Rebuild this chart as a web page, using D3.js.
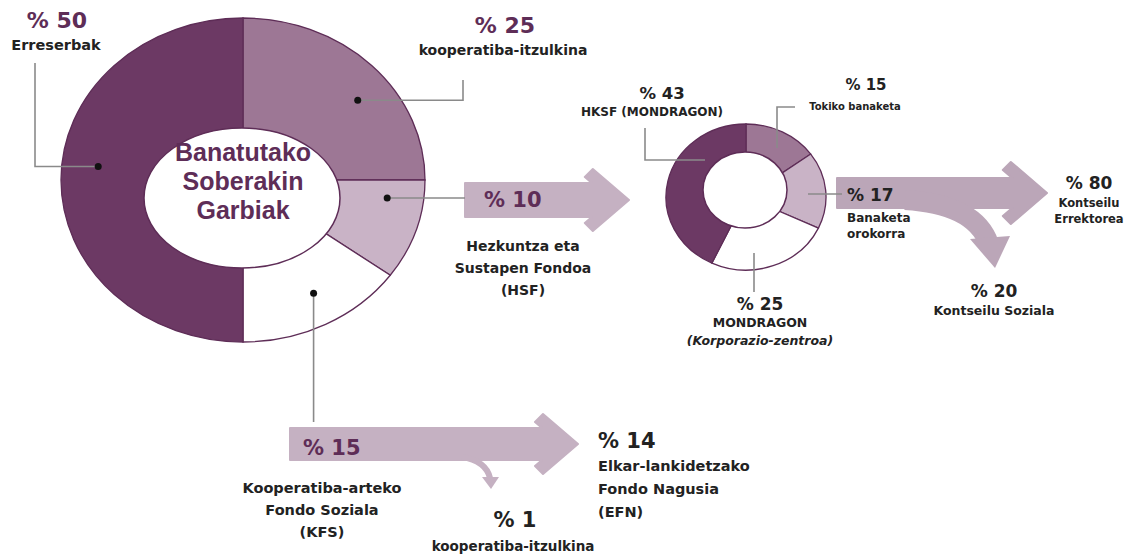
<!DOCTYPE html>
<html>
<head>
<meta charset="utf-8">
<script src="https://cdn.jsdelivr.net/npm/d3@7"></script>
<style>
  body { margin: 0; background: #fff; }
  text { font-family: "DejaVu Sans", sans-serif; font-weight: bold; }
</style>
</head>
<body>
<div id="chart"></div>
<script>
/**
 * DATA
 * */
const mainLabels = ["kooperatiba-itzulkina", "Hezkuntza eta Sustapen Fondoa (HSF)", "Kooperatiba-arteko Fondo Soziala (KFS)", "Erreserbak"];
const mainValues = [25, 10, 15, 50];

const hsfLabels = ["Tokiko banaketa", "Banaketa orokorra", "MONDRAGON (Korporazio-zentroa)", "HKSF (MONDRAGON)"];
const hsfValues = [15, 17, 25, 43];

const generalLabels = ["Kontseilu Errektorea", "Kontseilu Soziala"];
const generalValues = [80, 20];

const kfsLabels = ["Elkar-lankidetzako Fondo Nagusia (EFN)", "kooperatiba-itzulkina"];
const kfsValues = [14, 1];

const centerTitle = ["Banatutako", "Soberakin", "Garbiak"];

/**
 * CONSTANTS
 * */
const width = 1133, height = 555;
const purple = "#5e2d57";
const ink = "#222";
const lineGray = "#8a8a8a";
const arrowFill = "#c5b1c2";
const arrowFillDark = "#bba6b8";

const mainColors = ["#9d7795", "#c9b3c6", "#ffffff", "#6c3964"];
const hsfColors = ["#9d7795", "#c9b3c6", "#ffffff", "#6c3964"];

const svg = d3.select("#chart").append("svg")
  .attr("width", width)
  .attr("height", height);

const pie = d3.pie().sort(null).value(d => d);
const wedge = d3.arc().innerRadius(0).outerRadius(1);

// draws an elliptical donut: wedges from one centre, hole drawn on top
function donut(values, colors, c, hole) {
  const g = svg.append("g")
    .attr("transform", `translate(${c.x},${c.y}) scale(${c.rx},${c.ry})`);
  g.selectAll("path")
    .data(pie(values))
    .join("path")
    .attr("d", wedge)
    .attr("fill", (d, i) => colors[i])
    .attr("stroke", purple)
    .attr("stroke-width", 1.3)
    .attr("vector-effect", "non-scaling-stroke");
  svg.append("ellipse")
    .attr("cx", hole.x).attr("cy", hole.y)
    .attr("rx", hole.rx).attr("ry", hole.ry)
    .attr("fill", "#fff")
    .attr("stroke", purple)
    .attr("stroke-width", 1.5);
  return pie(values);
}

// block arrow with a chevron-like head
function arrow(x0, tip, cy, h, H, fill) {
  const run = 35, thick = 8;
  const xt = tip - run * H / 30;
  const xc = xt - thick;
  const xb = xc + (H - thick - h) * run / 30;
  const pts = [
    [x0, cy - h], [xb, cy - h], [xc, cy - H + thick], [xt, cy - H], [tip, cy],
    [xt, cy + H], [xc, cy + H - thick], [xb, cy + h], [x0, cy + h]
  ];
  svg.append("path")
    .attr("d", d3.line()(pts) + "Z")
    .attr("fill", fill)
    .attr("stroke", fill)
    .attr("stroke-width", 2)
    .attr("stroke-linejoin", "round");
}

function leader(points, dot) {
  svg.append("path")
    .attr("d", d3.line()(points))
    .attr("fill", "none")
    .attr("stroke", lineGray)
    .attr("stroke-width", 1.6);
  if (dot) {
    svg.append("circle")
      .attr("cx", points[0][0]).attr("cy", points[0][1])
      .attr("r", 3.5).attr("fill", "#111");
  }
}

function label(x, y, lines, opts) {
  const t = svg.append("text")
    .attr("x", x).attr("y", y)
    .attr("text-anchor", opts.anchor || "middle")
    .attr("fill", opts.color || ink)
    .style("font-size", opts.size + "px");
  lines.forEach((l, i) => {
    t.append("tspan")
      .attr("x", x)
      .attr("dy", i === 0 ? 0 : opts.lh)
      .style("font-style", opts.italic && opts.italic[i] ? "italic" : null)
      .text(l);
  });
}

/**
 * ARROWS (behind donuts)
 * */
arrow(465, 629, 200, 17, 31, arrowFill);
arrow(837, 1047, 193, 15, 31, arrowFillDark);
arrow(290, 578, 444, 16, 30, arrowFill);

// curved branch to Kontseilu Soziala
svg.append("path")
  .attr("d", "M905,200 Q975,204 989,244")
  .attr("fill", "none").attr("stroke", arrowFillDark).attr("stroke-width", 20);
svg.append("path")
  .attr("d", "M970,239 L1010,236 L995,268 Z").attr("fill", arrowFillDark);

// small branch to % 1
svg.append("path")
  .attr("d", "M462,457 Q486,461 490,478")
  .attr("fill", "none").attr("stroke", arrowFill).attr("stroke-width", 6);
svg.append("path")
  .attr("d", "M482,477 L499,477 L491,489 Z").attr("fill", arrowFill);

/**
 * DONUTS
 * */
const mainC = { x: 243, y: 180, rx: 182, ry: 162 };
const mainArcs = donut(mainValues, mainColors, mainC, { x: 242, y: 198, rx: 98, ry: 70 });
const hsfC = { x: 746, y: 197, rx: 80, ry: 73 };
donut(hsfValues, hsfColors, hsfC, { x: 745, y: 190, rx: 42, ry: 38 });

centerTitle.forEach((t, i) => {
  svg.append("text")
    .attr("x", 243).attr("y", 161 + i * 29)
    .attr("text-anchor", "middle")
    .attr("fill", purple)
    .style("font-family", "'Liberation Sans', Arial, sans-serif")
    .style("font-size", "25px")
    .text(t);
});

// dot positions on the big donut, from slice mid-angles
const dotShift = [7, -10, -2, 6]; // degrees
const dotPos = mainArcs.map((a, i) => {
  const ang = (a.startAngle + a.endAngle) / 2 + dotShift[i] * Math.PI / 180;
  return [mainC.x + 0.8 * mainC.rx * Math.sin(ang), mainC.y - 0.8 * mainC.ry * Math.cos(ang)];
});

/**
 * LEADERS
 * */
leader([dotPos[3], [35, dotPos[3][1]], [35, 63]], true);
leader([dotPos[0], [463, dotPos[0][1]], [463, 80]], true);
leader([dotPos[1], [465, dotPos[1][1]]], true);
leader([dotPos[2], [dotPos[2][0], 422]], true);

leader([[705, 160], [645, 160], [645, 128]], false);
leader([[777, 148], [777, 107], [795, 107]], false);
leader([[808, 194], [842, 194]], false);
leader([[754, 253], [754, 292]], false);

/**
 * LABELS
 * */
const pct = v => "% " + v;

label(57, 28, [pct(mainValues[3])], { size: 22, color: purple });
label(56, 50, [mainLabels[3]], { size: 14.5 });

label(505, 33, [pct(mainValues[0])], { size: 22, color: purple });
label(503, 55, [mainLabels[0]], { size: 14 });

label(484, 207, [pct(mainValues[1])], { size: 21, color: purple, anchor: "start" });
label(523, 251, ["Hezkuntza eta", "Sustapen Fondoa", "(HSF)"], { size: 14, lh: 22 });

label(303, 455, [pct(mainValues[2])], { size: 21, color: purple, anchor: "start" });
label(322, 493, ["Kooperatiba-arteko", "Fondo Soziala", "(KFS)"], { size: 14.5, lh: 22 });

label(662, 99, [pct(hsfValues[3])], { size: 16.5 });
label(652, 116, [hsfLabels[3]], { size: 12 });

label(866, 90, [pct(hsfValues[0])], { size: 15 });
label(855, 110, [hsfLabels[0]], { size: 10 });

label(847, 201, [pct(hsfValues[1])], { size: 17, anchor: "start" });
label(847, 222, ["Banaketa", "orokorra"], { size: 12, anchor: "start", lh: 16 });

label(760, 310, [pct(hsfValues[2])], { size: 17 });
label(760, 327, ["MONDRAGON", "(Korporazio-zentroa)"], { size: 12.5, lh: 18, italic: [false, true] });

label(1089, 189, [pct(generalValues[0])], { size: 17 });
label(1089, 207, ["Kontseilu", "Errektorea"], { size: 11.5, lh: 16 });

label(994, 297, [pct(generalValues[1])], { size: 17 });
label(994, 315, [generalLabels[1]], { size: 12.5 });

label(598, 448, [pct(kfsValues[0])], { size: 21, anchor: "start" });
label(598, 471, ["Elkar-lankidetzako", "Fondo Nagusia", "(EFN)"], { size: 14.5, lh: 23, anchor: "start" });

label(515, 527, [pct(kfsValues[1])], { size: 21 });
label(513, 551, [kfsLabels[1]], { size: 13.5 });
</script>
</body>
</html>
